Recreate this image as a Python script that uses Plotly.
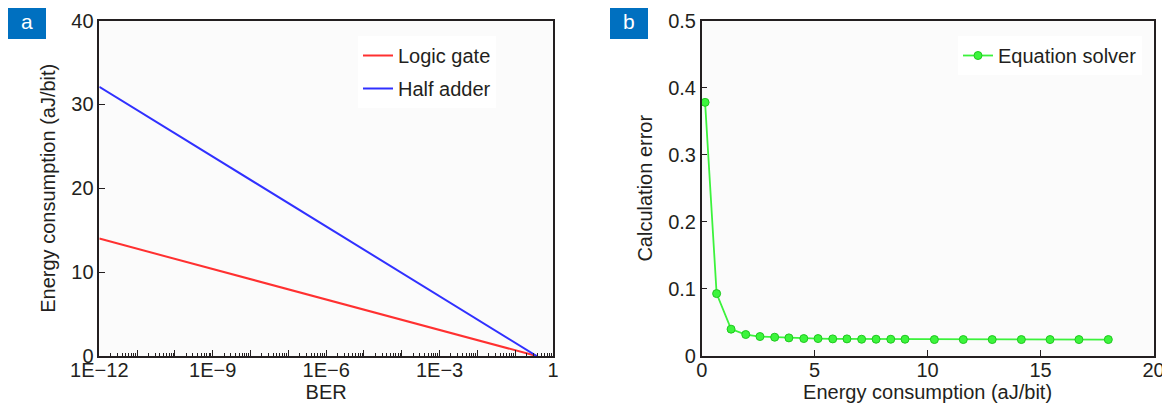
import plotly.graph_objects as go

# ---- data ----
ber = [1e-12, 0.37]
logic_gate = [14.0, 0.0]
half_adder = [32.1, 0.0]

energy = [0.15, 0.66, 1.30, 1.95, 2.58, 3.23, 3.86, 4.52, 5.15, 5.80, 6.43, 7.08, 7.72, 8.37, 9.00,
          10.30, 11.58, 12.86, 14.15, 15.42, 16.70, 18.00]
calc_error = [0.378, 0.093, 0.040, 0.032, 0.029, 0.028, 0.027, 0.026, 0.026, 0.0255, 0.0255, 0.025,
              0.025, 0.025, 0.025, 0.0245, 0.0245, 0.0245, 0.0245, 0.0245, 0.0245, 0.0245]

ber_tickvals = [10.0 ** k for k in range(-12, 1)]
ber_ticktext = ["1E\u221212" if k == -12 else "1E\u22129" if k == -9 else "1E\u22126" if k == -6
                else "1E\u22123" if k == -3 else "1" if k == 0 else "" for k in range(-12, 1)]
ber_minor = [m * 10.0 ** k for k in range(-12, 0) for m in range(2, 10)]

FONT = "Liberation Sans, Arial, sans-serif"
TXT = "#231f20"
OFF = 8  # page body margin
W, H = 1170 - OFF, 410 - OFF

def fx(px):
    return (px - OFF) / W

def fy(py):
    return (H - (py - OFF)) / H

fig = go.Figure()
fig.add_trace(go.Scatter(x=ber, y=logic_gate, mode="lines", name="Logic gate", legendgroup="g1",
                         line=dict(color="#ff3030", width=2), xaxis="x", yaxis="y", legend="legend"))
fig.add_trace(go.Scatter(x=ber, y=half_adder, mode="lines", name="Half adder", legendgroup="g2",
                         line=dict(color="#3030ff", width=2), xaxis="x", yaxis="y", legend="legend"))
fig.add_trace(go.Scatter(x=energy, y=calc_error, mode="lines+markers", name="Equation solver",
                         line=dict(color="#3cf23c", width=1.8),
                         marker=dict(color="#3cf53c", size=8, line=dict(color="#1fc81f", width=1)),
                         xaxis="x2", yaxis="y2", legend="legend2"))

axis_common = dict(showline=True, linecolor=TXT, linewidth=1.5, mirror=True, ticks="inside",
                   tickcolor=TXT, showgrid=False, zeroline=False, automargin=False,
                   tickfont=dict(size=20, color=TXT, family=FONT),
                   title_font=dict(size=20, color=TXT, family=FONT))

fig.update_layout(
    width=W, height=H, margin=dict(l=0, r=0, t=0, b=0),
    paper_bgcolor="white", plot_bgcolor="#fbfbfb",
    font=dict(family=FONT, color=TXT, size=20),
    xaxis=dict(axis_common, type="log", domain=[fx(99.3), fx(553)], range=[-12, 0],
               tickvals=ber_tickvals, ticktext=ber_ticktext, ticklen=6, ticklabelstandoff=-5,
               minor=dict(tickvals=ber_minor, ticks="inside", ticklen=3, tickcolor=TXT),
               title=dict(text="BER", standoff=0), anchor="y"),
    yaxis=dict(axis_common, domain=[fy(356), fy(20.5)], range=[0, 40], tickvals=[0, 10, 20, 30, 40],
               ticklen=6, title=dict(text="Energy consumption (aJ/bit)", standoff=10), anchor="x"),
    xaxis2=dict(axis_common, domain=[fx(701.7), fx(1153.5)], range=[0, 20], tickvals=[0, 5, 10, 15, 20],
                ticklen=6, ticklabelstandoff=-5,
                title=dict(text="Energy consumption (aJ/bit)", standoff=0), anchor="y2"),
    yaxis2=dict(axis_common, domain=[fy(356), fy(20.5)], range=[0, 0.5],
                tickvals=[0, 0.1, 0.2, 0.3, 0.4, 0.5], ticktext=["0", "0.1", "0.2", "0.3", "0.4", "0.5"],
                ticklen=6, title=dict(text="Calculation error", standoff=10), anchor="x2"),
    legend=dict(x=fx(358), y=fy(36), xanchor="left", yanchor="top", bgcolor="rgba(255,255,255,0.85)",
                font=dict(size=20, color=TXT, family=FONT), tracegroupgap=4),
    legend2=dict(x=fx(958), y=fy(36), xanchor="left", yanchor="top", bgcolor="rgba(255,255,255,0.85)",
                 font=dict(size=20, color=TXT, family=FONT)),
    showlegend=True,
)

for lbl, x0 in (("a", 8), ("b", 610)):
    fig.add_shape(type="rect", xref="paper", yref="paper", x0=fx(x0), x1=fx(x0 + 38),
                  y0=fy(39), y1=1.0, fillcolor="#0070c0", line=dict(width=0))
    fig.add_annotation(text=lbl, xref="paper", yref="paper", x=fx(x0 + 19), y=fy(21),
                       showarrow=False, font=dict(size=21, color="white", family=FONT),
                       xanchor="center", yanchor="middle")

fig.write_html("out.html")
